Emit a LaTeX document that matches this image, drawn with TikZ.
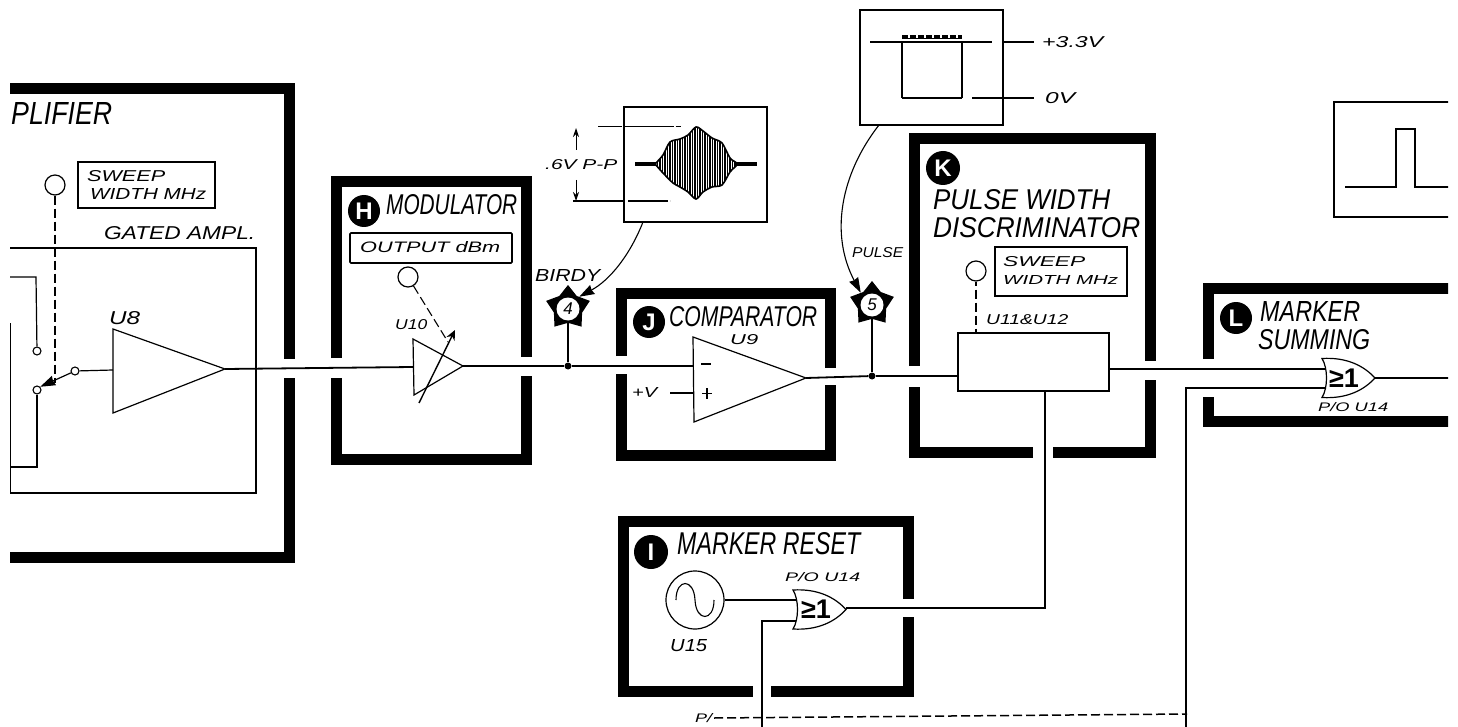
\documentclass[tikz,border=0pt]{standalone}
\usepackage{graphicx}
\usepackage{fontspec}
\setmainfont{Liberation Sans}
\usetikzlibrary{arrows.meta,shapes.geometric,calc}
\tikzset{
 frame/.style={line width=11pt,line cap=butt,miter limit=10},
 wire/.style={line width=1.1pt},
 hwire/.style={line width=1.8pt},
 box/.style={line width=1.2pt},
 dashw/.style={line width=1.1pt,dash pattern=on 9pt off 4pt},
 knob/.style={circle,draw,line width=1.2pt,minimum size=20pt,inner sep=0pt,fill=white},
 term/.style={circle,draw,line width=1.1pt,minimum size=8pt,inner sep=0pt,fill=white},
 badge/.style={circle,fill=black,text=white,minimum size=32pt,inner sep=0pt,font=\fontsize{24}{24}\selectfont\bfseries},
 dotn/.style={circle,fill=black,minimum size=7pt,inner sep=0pt},
 starn/.style={star,star points=5,star point ratio=1.55,fill=black,minimum size=46pt,inner sep=0pt},
 starc/.style={circle,fill=white,minimum size=23pt,inner sep=0pt},
 tip/.style={-{Stealth[length=15pt,width=10pt,inset=1pt]}},
 gatelab/.style={font=\bfseries\fontsize{27}{27}\selectfont,inner sep=0pt},
}
\newcommand{\lab}[6]{\node[inner sep=0pt,anchor=south west] (#1) at (#2,#3) {\resizebox{#4pt}{#5pt}{\itshape #6}};}
\newcommand{\orgate}[2]{%
 \draw[box,fill=white,shift={(#1,#2)}] (0,-19.5) .. controls (6,-10) and (6,10) .. (0,19.5)
  .. controls (25,21) and (42,12) .. (53,0) .. controls (42,-12) and (25,-21) .. (0,-19.5) -- cycle;}
\begin{document}
\begin{tikzpicture}[x=1pt,y=-1pt]
\useasboundingbox (0,0) rectangle (1458,727);
\fill[white] (0,0) rectangle (1458,727);
\begin{scope}
\clip (10,0) rectangle (1448,727);
% named points
\coordinate (u8a) at (113,329); \coordinate (u8b) at (113,413); \coordinate (u8o) at (225,369);
\coordinate (u10a) at (413,339); \coordinate (u10b) at (414,395); \coordinate (u10o) at (463,366);
\coordinate (u9a) at (693,337); \coordinate (u9b) at (694,422); \coordinate (u9o) at (806,378);
\coordinate (u10in) at (413,367); \coordinate (u9in) at (693,366); \coordinate (u9p) at (693,393); \coordinate (plusv) at (670,393);
\coordinate (u8in) at (113,370);
% frames
\draw[frame] (0,89) -- (289,89) -- (289,359) (289,378) -- (289,557) -- (0,557);
\draw[frame] (336,358) -- (336,181.5) -- (526,181.5) -- (526,357) (526,376) -- (526,459) -- (336,459) -- (336,378);
\draw[frame] (621.5,356) -- (621.5,293.5) -- (830,293.5) -- (830,368) (830,385) -- (830,455) -- (621.5,455) -- (621.5,374);
\draw[frame] (914,366) -- (914,138.5) -- (1150.5,138.5) -- (1150.5,361) (1150.5,380) -- (1150.5,452) -- (1053,452) (1033,452) -- (914,452) -- (914,387);
\draw[frame] (1208.5,359) -- (1208.5,288) -- (1460,288) (1460,421.5) -- (1208.5,421.5) -- (1208.5,397);
\draw[frame] (908.5,599) -- (908.5,521.5) -- (623,521.5) -- (623,691.5) -- (753,691.5) (771,691.5) -- (908.5,691.5) -- (908.5,617);
% amplifier interior
\lab{amp}{11}{125}{101}{22}{PLIFIER}
\draw[box] (78,162) rectangle (215,208);
\lab{sw1}{87}{182}{78}{11}{SWEEP}
\lab{sw2}{90}{200}{116}{11}{WIDTH MHz}
\node[knob] (k1) at (55,185) {};
\lab{gated}{104}{240}{151}{13}{GATED AMPL.}
\draw[box] (0,248) -- (256,248) -- (256,493) -- (0,493);
\node[term] (t1) at (37,351) {};
\node[term] (t2) at (37,390) {};
\node[term] (t3) at (75,371) {};
\draw[box] (0,277) -- (36,277) -- (t1);
\draw[box] (t2) -- (37,467) -- (0,467);
\draw[box] (10.5,323) -- (10.5,493);
\draw[dashw] (k1) -- (55,383);
\draw[box,tip] (t3) -- (t2.north east);
\draw[box] (t3) -- (u8in);
\draw[box] (u8a) -- (u8b) -- (u8o) -- cycle;
\lab{u8}{109}{325}{31}{13}{U8}
\draw[hwire] (u8o) -- (u10in);
% modulator
\node[badge] (h) at (364,211) {H};
\lab{mod}{386}{215}{131}{20}{MODULATOR}
\draw[line width=1.6pt,rounded corners=1pt] (350,233) rectangle (512,263);
\lab{out}{360}{253}{140}{11}{OUTPUT dBm}
\node[knob] (k2) at (408,277) {};
\coordinate (k2e) at (448,342);
\draw[dashw] (k2) -- (k2e);
\lab{u10}{395}{330}{32}{10}{U10}
\draw[box,fill=white] (u10a) -- (u10b) -- (u10o) -- cycle;
\coordinate (vs) at (419,403); \coordinate (ve) at (455,330);
\draw[line width=1.4pt,-{Stealth[length=10pt,width=9pt]}] (vs) -- (ve);
% star 4
\node[dotn] (d4) at (568,366) {};
\node[starn] (s4) at (568,308) {};
\node[starc,font=\itshape\fontsize{17}{17}\selectfont] (s4c) at (568,309) {4};
\draw[wire] (s4) -- (d4);
\draw[hwire] (u10o) -- (d4) -- (u9in);
\lab{birdy}{535}{282}{65}{12}{BIRDY}
% waveform box 1
\draw[line width=1.5pt] (624,107) rectangle (767,222);
\coordinate (w1a) at (635,164); \coordinate (w1b) at (757,164);
\draw[line width=3.4pt] (w1a) -- (w1b);
\begin{scope}
\clip plot[smooth] coordinates {(655,164)(663,155)(670,142)(680,139)(688,135)(696,127)(703,131)(712,138)(722,143)(730,158)(737,164)(730,172)(722,185)(712,187)(703,192)(696,199)(688,192)(680,187)(673,183)(663,173)(655,164)};
\fill[white] (650,120) rectangle (740,205);
\foreach \xx in {655,657.5,...,740} \draw[line width=1.35pt] (\xx,120) -- (\xx,205);
\end{scope}
\draw[line width=1.6pt] plot[smooth] coordinates {(655,164)(663,155)(670,142)(680,139)(688,135)(696,127)(703,131)(712,138)(722,143)(730,158)(737,164)(730,172)(722,185)(712,187)(703,192)(696,199)(688,192)(680,187)(673,183)(663,173)(655,164)};
\coordinate (dt) at (598,127); \coordinate (dte) at (681,127);
\coordinate (db) at (573,201); \coordinate (dbe) at (670,201);
\draw[line width=1pt,dash pattern=on 24pt off 1.5pt on 50pt off 2pt] (dt) -- (dte);
\draw[line width=1.3pt,dash pattern=on 52pt off 3pt on 40pt off 2pt] (db) -- (dbe);
\draw[line width=1pt,-{Stealth[length=9pt,width=6pt]}] (576,150) -- (576,128);
\draw[line width=1pt,-{Stealth[length=9pt,width=6pt]}] (576,180) -- (576,201);
\lab{pp}{545}{170}{72}{10}{.6V P-P}
\coordinate (w1c) at (643,222);
\draw[wire,tip] (w1c) .. controls (630,255) and (610,280) .. (s4.north east);
% comparator
\node[badge] (j) at (649,322) {J};
\lab{comp}{669}{327}{148}{20}{COMPARATOR}
\lab{u9}{730}{345}{28}{10}{U9}
\draw[box] (u9a) -- (u9b) -- (u9o) -- cycle;
\lab{pv}{632}{398}{25}{10}{+V}
\draw[line width=1.6pt] (plusv) -- (u9p);
\draw[line width=2pt] (701,364) -- (711,364);
\draw[line width=1.6pt] (702,393.5) -- (712,393.5) (707,388) -- (707,399);
% star 5
\coordinate (u11in) at (958,376);
\node[dotn] (d5) at (872,376) {};
\node[starn] (s5) at (872,304) {};
\node[starc,font=\itshape\fontsize{17}{17}\selectfont] (s5c) at (872,305) {5};
\draw[wire] (s5) -- (d5);
\draw[hwire] (u9o) -- (d5);
\lab{pulse}{852}{258}{51}{10}{PULSE}
% square wave box
\draw[line width=1.5pt] (860,10) rectangle (1003,125);
\coordinate (sqa) at (870,42); \coordinate (sqb) at (992,42);
\coordinate (sqc) at (902,42); \coordinate (sqd) at (962,42);
\coordinate (sqe) at (902,98); \coordinate (sqf) at (962,98);
\draw[line width=2.8pt] (sqa) -- (sqb);
\draw[line width=1.1pt] (sqc) -- (sqe) (sqd) -- (sqf);
\draw[line width=2.8pt] (sqe) -- (sqf);
\fill (902,35) rectangle (962,39);
\foreach \xx in {908,916,...,956} \fill[white] (\xx,35) rectangle (\xx+2,38);
\coordinate (l1a) at (1003,42); \coordinate (l1b) at (1034,42);
\coordinate (l2a) at (972,98); \coordinate (l2b) at (1034,98);
\draw[wire] (l1a) -- (l1b) (l2a) -- (l2b);
\lab{v33}{1042}{48}{61}{11}{+3.3V}
\lab{v0}{1045}{104}{30}{11}{0V}
\coordinate (sqc2) at (879,125);
\draw[wire,tip] (sqc2) .. controls (840,175) and (830,235) .. (s5.north west);
% discriminator
\node[badge,minimum size=34pt] (k) at (943,168) {K};
\lab{pw}{933}{210}{177}{20}{PULSE WIDTH}
\lab{disc}{933}{238}{207}{20}{DISCRIMINATOR}
\draw[box] (995,247) rectangle (1127,296);
\lab{sw3}{1003}{267}{82}{10}{SWEEP}
\lab{sw4}{1003}{285}{115}{9}{WIDTH MHz}
\node[knob] (k3) at (976,271) {};
\node[draw,box,minimum width=151pt,minimum height=58pt,inner sep=0pt] (u11) at (1033.5,362) {};
\draw[dashw,dash phase=5pt] (k3) -- (u11.north -| k3);
\lab{u1112}{986}{325}{82}{10}{U11\&U12}
\draw[wire] (d5) -- (u11.west |- d5);
% L
\coordinate (g2a) at (1325,369); \coordinate (g2b) at (1325,388);
\draw[hwire] (u11.east |- g2a) -- (g2a);
\coordinate (lv) at (1186,388); \coordinate (lve) at (1186,727);
\draw[box] (g2b) -- (lv) -- (lve);
\orgate{1322}{378}
\node[gatelab] (ge2) at (1344,378) {≥1};
\node[badge] (l) at (1236,318) {L};
\lab{mk}{1260}{322}{100}{20}{MARKER}
\lab{sm}{1258}{350}{112}{20}{SUMMING}
\lab{po2}{1318}{412}{70}{9}{P/O U14}
\coordinate (g2o) at (1375,378); \coordinate (g2e) at (1460,378);
\draw[wire] (g2o) -- (g2e);
% pulse box
\draw[box] (1460,102) -- (1334,102) -- (1334,217) -- (1460,217);
\draw[line width=2pt] (1345,187) -- (1396,187) -- (1396,129) -- (1415,129) -- (1415,187) -- (1460,187);
% marker reset
\node[badge,minimum size=34pt] (i) at (651,552) {I};
\lab{mr}{677}{555}{183}{22}{MARKER RESET}
\node[circle,draw,box,minimum size=58pt,inner sep=0pt] (osc) at (695,600) {};
\draw[line width=1.1pt] (676,600) .. controls (676,578) and (694,578) .. (695,600) .. controls (696,622) and (714,622) .. (714,600);
\lab{u15}{670}{652}{37}{12}{U15}
\lab{po1}{785}{582}{75}{9}{P/O U14}
\coordinate (g1a) at (796,600); \coordinate (g1b) at (796,621);
\draw[line width=1.4pt] (osc.east |- g1a) -- (g1a);
\coordinate (p1) at (762,621); \coordinate (p1e) at (762,727);
\draw[box] (g1b) -- (p1) -- (p1e);
\orgate{793}{609.5}
\node[gatelab] (ge1) at (816,609) {≥1};
\coordinate (g1o) at (846,608); \coordinate (jn) at (1045,608);
\draw[line width=1.5pt] (g1o) -- (jn) -- (u11.south -| jn);
\lab{p}{695}{723}{17}{9}{P/}
\coordinate (dsa) at (714,718); \coordinate (dsb) at (1187,714);
\draw[line width=1.5pt,dash pattern=on 9pt off 4pt] (dsa) -- (dsb);
\end{scope}
\end{tikzpicture}
\end{document}
